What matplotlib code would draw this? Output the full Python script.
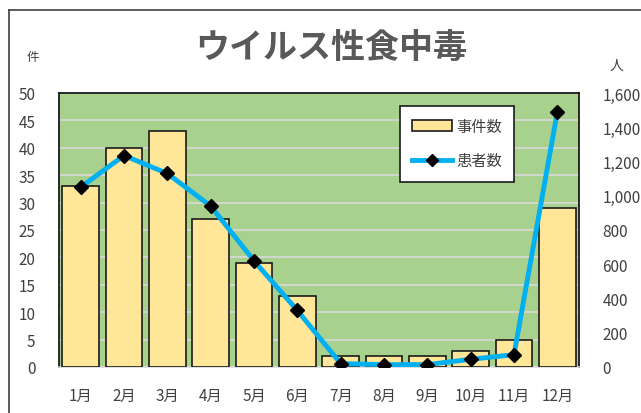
import matplotlib
matplotlib.use("Agg")
import matplotlib.pyplot as plt
from matplotlib.lines import Line2D
from matplotlib.patches import Patch
from matplotlib.ticker import FuncFormatter

plt.rcParams['font.family'] = ['Noto Sans CJK JP', 'DejaVu Sans']

months = ['1月', '2月', '3月', '4月', '5月', '6月', '7月', '8月', '9月', '10月', '11月', '12月']
incidents = [33, 40, 43, 27, 19, 13, 2, 2, 2, 3, 5, 29]
patients = [1050, 1235, 1130, 940, 620, 330, 20, 14, 14, 45, 72, 1490]
left_ticks = [0, 5, 10, 15, 20, 25, 30, 35, 40, 45, 50]
right_ticks = [0, 200, 400, 600, 800, 1000, 1200, 1400, 1600]

W, H = 641, 414
fig = plt.figure(figsize=(W / 100, H / 100), dpi=100)
fig.patch.set_facecolor('white')

# outer chart border (left and top visible)
fig.add_artist(Line2D([9 / W, 9 / W], [0, 1 - 11 / H], color='#404040', lw=1.2, transform=fig.transFigure))
fig.add_artist(Line2D([9 / W, 1], [1 - 11 / H, 1 - 11 / H], color='#404040', lw=1.2, transform=fig.transFigure))

ax = fig.add_axes([59 / W, (H - 368) / H, (579 - 59) / W, (368 - 94) / H])
ax.set_facecolor('#A9D18E')
x = list(range(len(months)))
ax.bar(x, incidents, width=0.84, color='#FFE699', edgecolor='#1a1a1a', linewidth=1.2, zorder=3)
ax.set_xlim(-0.5, len(months) - 0.5)
ax.set_ylim(0, 50)
ax.set_yticks(left_ticks)
ax.yaxis.grid(True, color='#D9D9D9', lw=1.2, zorder=0)
ax.set_axisbelow(True)
ax.set_xticks(x)
ax.set_xticklabels(months)
for s in ['left', 'top', 'right']:
    ax.spines[s].set_color('#1a1a1a')
    ax.spines[s].set_linewidth(1.3)
ax.spines['bottom'].set_color('#D9D9D9')
ax.spines['bottom'].set_linewidth(1.2)
ax.tick_params(axis='both', length=0, labelsize=11, colors='#404040')
ax.tick_params(axis='x', pad=14)
ax.tick_params(axis='y', pad=17)

ax2 = ax.twinx()
ax2.plot(x, patients, color='#00B0F0', lw=3.5, marker='D', markersize=7.5,
         markerfacecolor='black', markeredgecolor='black', zorder=5)
ax2.set_ylim(0, 1600)
ax2.set_yticks(right_ticks)
ax2.yaxis.set_major_formatter(FuncFormatter(lambda v, p: f'{int(v):,}'))
ax2.tick_params(axis='y', length=0, labelsize=11, colors='#404040', pad=17)
for s in ax2.spines.values():
    s.set_visible(False)

fig.text(331 / W, 1 - 48 / H, 'ウイルス性食中毒', ha='center', va='center',
         fontsize=24.5, fontweight='bold', color='#595959')
fig.text(33 / W, 1 - 58 / H, '件', ha='center', va='center', fontsize=9, color='#404040')
fig.text(617 / W, 1 - 66 / H, '人', ha='center', va='center', fontsize=10, color='#404040')

handles = [Patch(facecolor='#FFE699', edgecolor='#1a1a1a', linewidth=1.2),
           Line2D([], [], color='#00B0F0', lw=3.5, marker='D', markersize=6,
                  markerfacecolor='black', markeredgecolor='black')]
leg = ax2.legend(handles, ['事件数', '患者数'], loc='upper left',
                 bbox_to_anchor=((392 - 59) / (579 - 59), (368 - 99) / (368 - 94)),
                 frameon=True, fancybox=False, edgecolor='#1a1a1a', framealpha=1,
                 fontsize=11, labelspacing=1.15, handlelength=2.6, borderpad=0.8,
                 handletextpad=0.3, labelcolor='#404040')
leg.get_frame().set_linewidth(1.2)

fig.savefig('out.png', dpi=100)
